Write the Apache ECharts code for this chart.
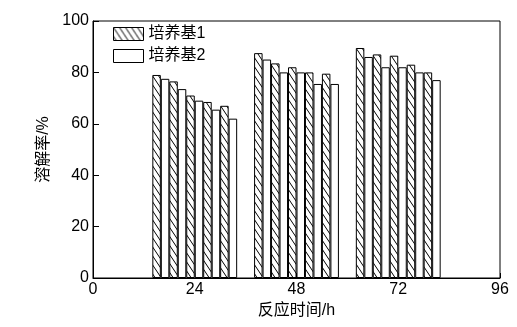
<!DOCTYPE html>
<html>
<head>
<meta charset="utf-8">
<script src="https://cdn.jsdelivr.net/npm/echarts@6/dist/echarts.min.js"></script>
<style>
html,body{margin:0;padding:0;background:#fff;}
#chart{width:517px;height:327px;}
</style>
</head>
<body>
<div id="chart"></div>
<script>
// Data
var times = [16, 20, 24, 28, 32, 40, 44, 48, 52, 56, 64, 68, 72, 76, 80];
var medium1 = [79, 76.5, 71, 68.5, 67, 87.5, 83.5, 82, 80, 79.5, 89.5, 87, 86.5, 83, 80];
var medium2 = [77.5, 73.5, 69, 65.5, 62, 85, 80, 80, 75.5, 75.5, 86, 82, 82, 80, 77];
var seriesNames = ['培养基1', '培养基2'];
var xTicks = [0, 24, 48, 72, 96];
var yTicks = [0, 20, 40, 60, 80, 100];

function pairs(xs, ys) {
  return xs.map(function (x, i) { return [x, ys[i]]; });
}

// hatch pattern "\\\\"
var TW = 6, TH = 9;
var tile = document.createElement('canvas');
tile.width = TW; tile.height = TH;
var ctx = tile.getContext('2d');
ctx.fillStyle = '#fff';
ctx.fillRect(0, 0, TW, TH);
ctx.strokeStyle = '#000';
ctx.lineWidth = 1;
[-TW, 0, TW].forEach(function (dx) {
  ctx.beginPath();
  ctx.moveTo(dx, 0);
  ctx.lineTo(dx + TW, TH);
  ctx.stroke();
});

var font = '"Liberation Sans", Arial, "Noto Sans CJK SC", sans-serif';
var chart = echarts.init(document.getElementById('chart'), null, {renderer: 'canvas'});
chart.setOption({
  animation: false,
  backgroundColor: '#fff',
  textStyle: {fontFamily: font, color: '#000'},
  grid: {left: 93, right: 17, top: 21, bottom: 49, show: true, borderColor: '#000', borderWidth: 1, backgroundColor: 'transparent'},
  legend: {
    orient: 'vertical', left: 108, top: 21, itemWidth: 30, itemHeight: 13, itemGap: 6,
    icon: 'rect',
    textStyle: {fontFamily: font, fontSize: 16, color: '#000'},
    itemStyle: {borderColor: '#000', borderWidth: 1},
    data: seriesNames
  },
  xAxis: {
    type: 'value', min: 0, max: 96, interval: 24,
    name: '反应时间/h', nameLocation: 'middle', nameGap: 22,
    nameTextStyle: {fontFamily: font, fontSize: 16, color: '#000'},
    axisLine: {show: true, lineStyle: {color: '#000', width: 1}},
    axisTick: {show: true, inside: true, length: 5, lineStyle: {color: '#000'}},
    axisLabel: {fontFamily: font, fontSize: 16, color: '#000', margin: 4,
      formatter: function (v) { return xTicks.indexOf(v) >= 0 ? String(v) : ''; }},
    splitLine: {show: false}
  },
  yAxis: {
    type: 'value', min: 0, max: 100, interval: 20,
    name: '溶解率/%', nameLocation: 'middle', nameGap: 27,
    nameTextStyle: {fontFamily: font, fontSize: 16, color: '#000'},
    axisLine: {show: true, lineStyle: {color: '#000', width: 1}},
    axisTick: {show: true, inside: true, length: 6, lineStyle: {color: '#000'}},
    axisLabel: {fontFamily: font, fontSize: 16, color: '#000', margin: 4,
      formatter: function (v) { return yTicks.indexOf(v) >= 0 ? String(v) : ''; }},
    splitLine: {show: false}
  },
  series: [
    {
      name: seriesNames[0], type: 'bar', barWidth: 8.5, barGap: '0%',
      itemStyle: {color: {image: tile, repeat: 'repeat'}, borderColor: '#000', borderWidth: 1},
      data: pairs(times, medium1)
    },
    {
      name: seriesNames[1], type: 'bar', barWidth: 8.5, barGap: '0%',
      itemStyle: {color: '#fff', borderColor: '#000', borderWidth: 1},
      data: pairs(times, medium2)
    }
  ]
});
</script>
</body>
</html>
